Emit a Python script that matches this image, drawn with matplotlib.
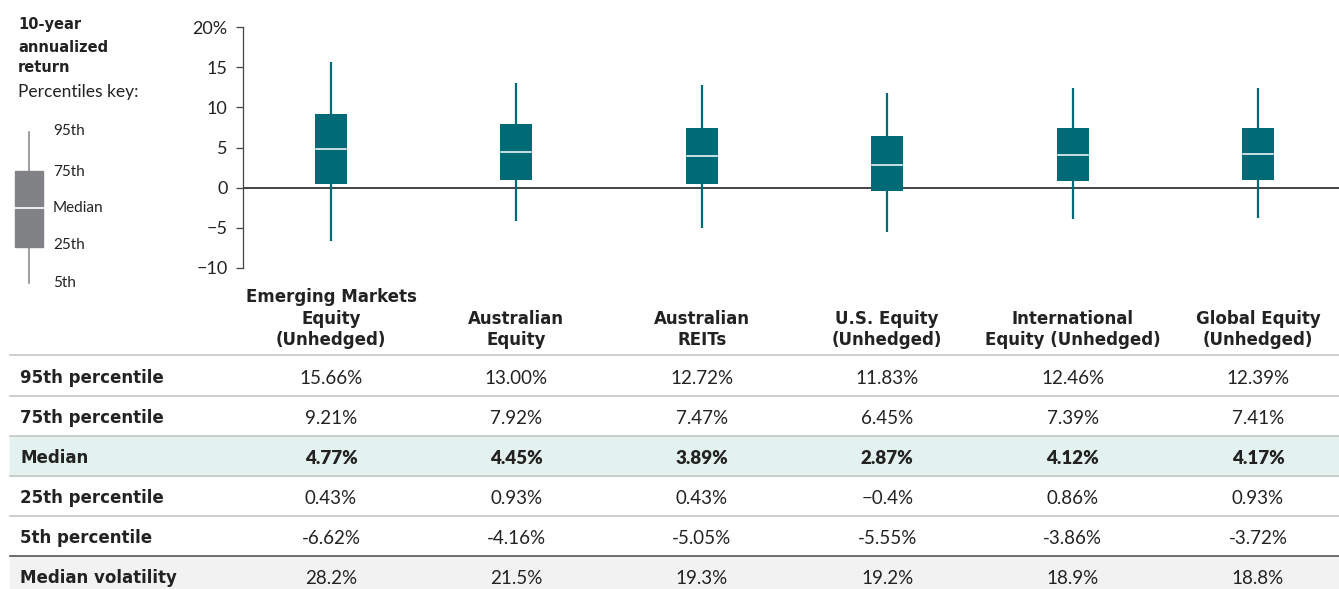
import matplotlib.pyplot as plt
from matplotlib.patches import Rectangle

plt.rcParams['font.family'] = ['Lato', 'DejaVu Sans']
HEAD = ['DejaVu Sans']

categories = ['Emerging Markets\nEquity\n(Unhedged)', 'Australian\nEquity', 'Australian\nREITs',
              'U.S. Equity\n(Unhedged)', 'International\nEquity (Unhedged)', 'Global Equity\n(Unhedged)']
pct95 = ['15.66%', '13.00%', '12.72%', '11.83%', '12.46%', '12.39%']
pct75 = ['9.21%', '7.92%', '7.47%', '6.45%', '7.39%', '7.41%']
median = ['4.77%', '4.45%', '3.89%', '2.87%', '4.12%', '4.17%']
pct25 = ['0.43%', '0.93%', '0.43%', '\u22120.4%', '0.86%', '0.93%']
pct5 = ['-6.62%', '-4.16%', '-5.05%', '-5.55%', '-3.86%', '-3.72%']
volatility = ['28.2%', '21.5%', '19.3%', '19.2%', '18.9%', '18.8%']
row_labels = ['95th percentile', '75th percentile', 'Median', '25th percentile',
              '5th percentile', 'Median volatility']
yticks = [-10, -5, 0, 5, 10, 15, 20]
ytick_labels = ['\u221210', '\u22125', '0', '5', '10', '15', '20%']

TEAL = '#006b77'
KEY_GREY = '#808285'
TEXT = '#222222'


def to_num(labels):
    return [float(s.rstrip('%').replace('\u2212', '-')) for s in labels]


W, H = 1339, 589
fig = plt.figure(figsize=(W / 100, H / 100), dpi=100)

# overlay in pixel coordinates for the table and key
bg = fig.add_axes([0, 0, 1, 1])
bg.set_xlim(0, W)
bg.set_ylim(H, 0)
bg.axis('off')

# box chart
x0, x1, yb, yt = 243, 1339, 268, 27
ax = fig.add_axes([x0 / W, (H - yb) / H, (x1 - x0) / W, (yb - yt) / H])
step = 185.4
first = 331
ax.set_xlim((x0 - first) / step, (x1 - first) / step)
ax.set_ylim(-10, 20)
for s in ['top', 'right', 'bottom']:
    ax.spines[s].set_visible(False)
ax.spines['left'].set_color('#444444')
ax.spines['left'].set_linewidth(0.9)
ax.set_xticks([])
ax.set_yticks(yticks)
ax.set_yticklabels(ytick_labels)
ax.tick_params(axis='y', direction='out', length=5, width=0.9, color='#444444',
               labelsize=13, labelcolor=TEXT, pad=6)
ax.axhline(0, color='#111111', lw=1.1, zorder=1)

p95, p75, p50, p25, p5 = map(to_num, [pct95, pct75, median, pct25, pct5])
xs = list(range(len(categories)))
ax.vlines(xs, p5, p95, color=TEAL, lw=1.6, zorder=2)
ax.bar(xs, [hi - lo for hi, lo in zip(p75, p25)], bottom=p25, width=32 / step,
       color=TEAL, zorder=3)
for x, m in zip(xs, p50):
    ax.plot([x - 15 / step, x + 15 / step], [m, m], color='white', lw=1.1, zorder=4)

# percentiles key
for txt, y in [('10-year', 25), ('annualized', 47), ('return', 68)]:
    bg.text(18, y, txt, fontsize=10.5, fontweight='bold', family=HEAD, color=TEXT, va='center')
bg.text(18, 92, 'Percentiles key:', fontsize=12.5, color=TEXT, va='center')
bg.plot([29, 29], [132, 283], color=KEY_GREY, lw=1.1)
bg.add_patch(Rectangle((15, 171), 28, 76, color=KEY_GREY))
bg.plot([15, 43], [208, 208], color='white', lw=1.2)
for lab, y in zip(['95th', '75th', 'Median', '25th', '5th'], [131, 172, 208, 245, 283]):
    bg.text(53, y, lab, fontsize=11, color=TEXT, va='center')

# table
col_x = [first + i * step for i in xs]
for cx, cat in zip(col_x, categories):
    bg.text(cx, 349, cat, ha='center', va='bottom', fontsize=12, fontweight='bold',
            family=HEAD, color=TEXT, linespacing=1.24)

bg.add_patch(Rectangle((10, 436), W - 10, 40, color='#e3f1ef', zorder=0))
bg.add_patch(Rectangle((10, 556), W - 10, 40, color='#f2f2f2', zorder=0))
for y in [355, 396, 436, 476, 516]:
    bg.plot([10, W], [y, y], color='#c6c6c6', lw=1.2)
bg.plot([10, W], [556, 556], color='#555555', lw=1.2)

rows = [pct95, pct75, median, pct25, pct5, volatility]
row_y = [378, 418, 458, 498, 538, 578]
for lab, vals, y in zip(row_labels, rows, row_y):
    bg.text(20, y, lab, fontsize=12, fontweight='bold', family=HEAD, color=TEXT, va='center')
    bold = lab == 'Median'
    for cx, v in zip(col_x, vals):
        bg.text(cx, y, v, ha='center', va='center', fontsize=13.5, color=TEXT,
                fontweight='heavy' if bold else 'normal')

fig.savefig('out.png', dpi=100)
